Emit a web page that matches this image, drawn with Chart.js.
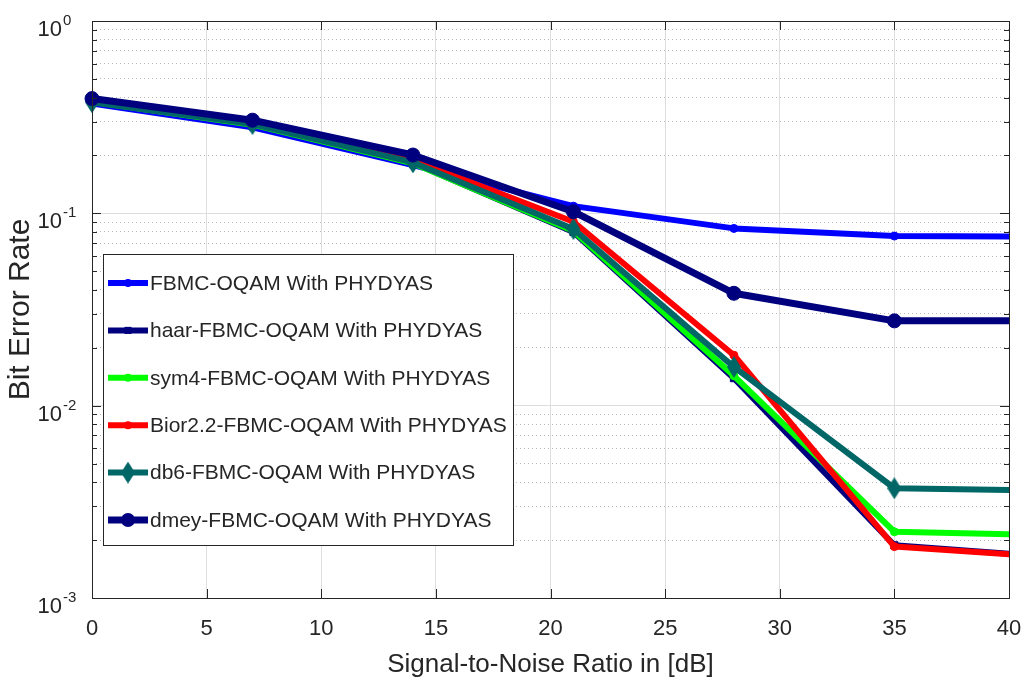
<!DOCTYPE html>
<html>
<head>
<meta charset="utf-8">
<title>BER vs SNR</title>
<script src="https://cdn.jsdelivr.net/npm/chart.js@4.4.1/dist/chart.umd.min.js"></script>
<style>
  html, body { margin: 0; padding: 0; background: #fff; }
  #wrap { width: 1026px; height: 686px; }
</style>
</head>
<body>
<div id="wrap"><canvas id="berChart" width="1026" height="686"></canvas></div>
<script>
// SNR points (dB); the last one lies past the axis limit and gets clipped
const snr = [0, 7, 14, 21, 28, 35, 42];

const berFbmc = [0.372, 0.280, 0.178, 0.109, 0.0835, 0.0762, 0.0755];
const berHaar = [0.385, 0.290, 0.183, 0.080, 0.0139, 0.00188, 0.00163];
const berSym4 = [0.380, 0.289, 0.182, 0.081, 0.0143, 0.00221, 0.00212];
const berBior = [0.385, 0.293, 0.190, 0.0904, 0.0183, 0.00185, 0.00163];
const berDb6  = [0.378, 0.291, 0.184, 0.0828, 0.0159, 0.00372, 0.00361];
const berDmey = [0.395, 0.305, 0.201, 0.102, 0.0384, 0.0276, 0.0276];

const seriesNames = [
    'FBMC-OQAM With PHYDYAS',
    'haar-FBMC-OQAM With PHYDYAS',
    'sym4-FBMC-OQAM With PHYDYAS',
    'Bior2.2-FBMC-OQAM With PHYDYAS',
    'db6-FBMC-OQAM With PHYDYAS',
    'dmey-FBMC-OQAM With PHYDYAS'
];
const seriesValues = [berFbmc, berHaar, berSym4, berBior, berDb6, berDmey];

const xTicks = [0, 5, 10, 15, 20, 25, 30, 35, 40];
const yDecades = [1e-3, 1e-2, 1e-1, 1];

// 1..9 x 10^n between the decades
const yTickValues = [];
yDecades.forEach((d, i) => {
    if (i === yDecades.length - 1) { yTickValues.push(d); return; }
    for (let m = 1; m <= 9; m++) yTickValues.push(Number((d * m).toPrecision(6)));
});

const FONT = "'Liberation Sans', Arial, sans-serif";
const TEXT = '#262626';

function isDecade(v) {
    const l = Math.log10(v);
    return Math.abs(l - Math.round(l)) < 1e-9;
}

// tall diamond marker for db6
function makeDiamond(color, w, h) {
    const c = document.createElement('canvas');
    c.width = w; c.height = h;
    const g = c.getContext('2d');
    g.fillStyle = color;
    g.beginPath();
    g.moveTo(w / 2, 0); g.lineTo(w, h / 2); g.lineTo(w / 2, h); g.lineTo(0, h / 2);
    g.closePath();
    g.fill();
    return c;
}

const seriesStyle = [
    { color: '#0000ff', width: 6, point: 'circle', radius: 4 },
    { color: '#00007f', width: 6, point: 'rect', radius: 5 },
    { color: '#00ff00', width: 6, point: 'circle', radius: 4 },
    { color: '#ff0000', width: 6, point: 'circle', radius: 4 },
    { color: '#006666', width: 6, point: makeDiamond('#006666', 14, 22), radius: 9 },
    { color: '#00007f', width: 7, point: 'circle', radius: 7 }
];

const datasets = seriesNames.map((name, i) => ({
    label: name,
    data: snr.map((s, k) => ({ x: s, y: seriesValues[i][k] })),
    borderColor: seriesStyle[i].color,
    backgroundColor: seriesStyle[i].color,
    borderWidth: seriesStyle[i].width,
    pointStyle: seriesStyle[i].point,
    pointRadius: seriesStyle[i].radius,
    pointBorderWidth: 1,
    borderJoinStyle: 'round',
    tension: 0,
    order: seriesNames.length - 1 - i,
    clip: { left: 12, top: 0, right: 0, bottom: 0 }
}));

// box, inward tick marks and 10^n labels
const axesFrame = {
    id: 'axesFrame',
    afterDatasetsDraw(chart) {
        const { ctx, chartArea: a, scales: { x, y } } = chart;
        ctx.save();
        ctx.strokeStyle = TEXT;
        ctx.lineWidth = 1;
        ctx.beginPath();
        xTicks.forEach(v => {
            const px = Math.round(x.getPixelForValue(v)) + 0.5;
            ctx.moveTo(px, a.bottom); ctx.lineTo(px, a.bottom - 9);
            ctx.moveTo(px, a.top); ctx.lineTo(px, a.top + 9);
        });
        yTickValues.forEach(v => {
            const py = Math.round(y.getPixelForValue(v)) + 0.5;
            const len = isDecade(v) ? 9 : 5;
            ctx.moveTo(a.left, py); ctx.lineTo(a.left + len, py);
            ctx.moveTo(a.right, py); ctx.lineTo(a.right - len, py);
        });
        ctx.stroke();
        ctx.strokeRect(a.left + 0.5, a.top + 0.5, a.right - a.left, a.bottom - a.top);

        ctx.fillStyle = TEXT;
        ctx.textBaseline = 'alphabetic';
        yDecades.forEach(v => {
            const py = y.getPixelForValue(v);
            const e = Math.round(Math.log10(v));
            ctx.font = '22px ' + FONT;
            ctx.textAlign = 'right';
            ctx.fillText('10', a.left - 30, py + 15);
            ctx.font = '15px ' + FONT;
            ctx.textAlign = 'left';
            ctx.fillText(String(e), a.left - 29, py + 4);
        });
        ctx.restore();
    }
};

function drawMarker(ctx, st, cx, cy) {
    ctx.fillStyle = st.color;
    if (st.point instanceof HTMLCanvasElement) {
        ctx.drawImage(st.point, cx - st.point.width / 2, cy - st.point.height / 2);
    } else if (st.point === 'rect') {
        const s = st.radius * Math.SQRT1_2;
        ctx.fillRect(cx - s, cy - s, 2 * s, 2 * s);
    } else {
        ctx.beginPath();
        ctx.arc(cx, cy, st.radius, 0, Math.PI * 2);
        ctx.fill();
    }
}

// legend box inside the plot area
const boxLegend = {
    id: 'boxLegend',
    afterDraw(chart) {
        const { ctx, chartArea: a } = chart;
        const left = a.left + 11, top = a.top + 233, w = 410, h = 291;
        ctx.save();
        ctx.fillStyle = '#fff';
        ctx.fillRect(left, top, w, h);
        ctx.strokeStyle = TEXT;
        ctx.lineWidth = 1;
        ctx.strokeRect(left + 0.5, top + 0.5, w, h);
        chart.data.datasets.forEach((ds, i) => {
            const st = seriesStyle[i];
            const cy = top + 29 + i * 47.4;
            ctx.strokeStyle = st.color;
            ctx.lineWidth = st.width;
            ctx.beginPath();
            ctx.moveTo(left + 5, cy);
            ctx.lineTo(left + 45, cy);
            ctx.stroke();
            drawMarker(ctx, st, left + 25, cy);
            ctx.fillStyle = TEXT;
            ctx.font = '21px ' + FONT;
            ctx.textAlign = 'left';
            ctx.textBaseline = 'middle';
            ctx.fillText(ds.label, left + 47, cy + 1);
        });
        ctx.restore();
    }
};

const ctxBer = document.getElementById('berChart').getContext('2d');
new Chart(ctxBer, {
    type: 'line',
    data: { datasets: datasets },
    plugins: [axesFrame, boxLegend],
    options: {
        responsive: false,
        devicePixelRatio: 1,
        animation: false,
        events: [],
        layout: { padding: { top: 21, right: 17, left: 0, bottom: 0 } },
        plugins: {
            legend: { display: false },
            tooltip: { enabled: false }
        },
        scales: {
            x: {
                type: 'linear',
                min: 0,
                max: 40,
                afterFit: scale => {
                    scale.height = 88;
                    scale.paddingLeft = 0;
                    scale.paddingRight = 0;
                },
                afterBuildTicks: scale => {
                    scale.ticks = xTicks.map(v => ({ value: v }));
                },
                ticks: {
                    color: TEXT,
                    font: { family: FONT, size: 22 },
                    padding: 18,
                    maxRotation: 0
                },
                grid: {
                    color: '#dedede',
                    lineWidth: 1,
                    drawTicks: false
                },
                border: { display: false },
                title: {
                    display: true,
                    text: 'Signal-to-Noise Ratio in [dB]',
                    color: TEXT,
                    font: { family: FONT, size: 26 },
                    padding: { top: 0, bottom: 6 }
                }
            },
            y: {
                type: 'logarithmic',
                min: 1e-3,
                max: 1,
                afterFit: scale => {
                    scale.width = 92;
                    scale.paddingTop = 0;
                    scale.paddingBottom = 0;
                },
                afterBuildTicks: scale => {
                    scale.ticks = yTickValues.map(v => ({ value: v, major: isDecade(v) }));
                },
                ticks: { display: false },
                grid: {
                    color: c => (c.tick && isDecade(c.tick.value)) ? '#dedede' : '#b8b8b8',
                    lineWidth: 1,
                    drawTicks: false
                },
                border: {
                    display: false,
                    dash: c => (c.tick && isDecade(c.tick.value)) ? [] : [1, 3]
                },
                title: {
                    display: true,
                    text: 'Bit Error Rate',
                    color: TEXT,
                    font: { family: FONT, size: 30 },
                    padding: { top: 3, bottom: 0 }
                }
            }
        }
    }
});
</script>
</body>
</html>
